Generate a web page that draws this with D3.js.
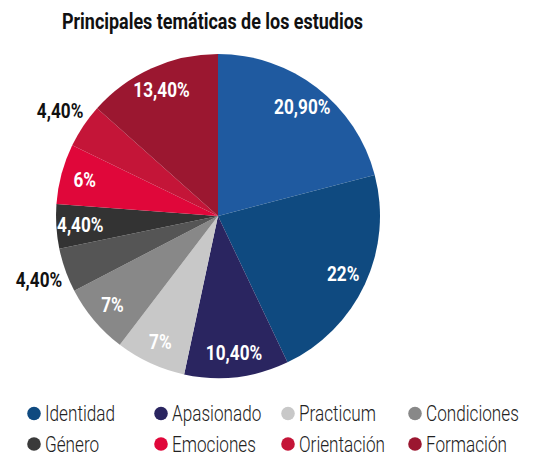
<!DOCTYPE html>
<html>
<head>
  <script src="https://cdn.jsdelivr.net/npm/d3@7"></script>
  <style>
    body { margin: 0; background: #fff; }
    text { font-family: Roboto, "Noto Sans", sans-serif; }
  </style>
</head>
<body>
  <svg width="534" height="452" id="chart"></svg>
  <script>
    // slices, clockwise from 12 o'clock
    const values = [20.9, 22, 10.4, 7, 7, 4.4, 4.4, 6, 4.4, 13.4];
    const sliceColors = ['#1f5aa0', '#0f4a80', '#2a2560', '#c8c8c8', '#888888',
      '#555555', '#333333', '#e0073a', '#c41538', '#9b1730'];
    // slices whose label sits outside the pie
    const outsideLabels = [5, 8];

    const legendNames = ['Identidad', 'Apasionado', 'Practicum', 'Condiciones',
      'Género', 'Emociones', 'Orientación', 'Formación'];
    const legendColors = ['#0f4a80', '#2a2560', '#c8c8c8', '#888888',
      '#3a3a3a', '#e0073a', '#c41538', '#9b1730'];

    const svg = d3.select('#chart');
    const cx = 218, cy = 216, radius = 162;

    svg.append('text')
      .attr('x', 62)
      .attr('y', 29)
      .attr('font-size', 22)
      .attr('font-weight', 700)
      .attr('fill', '#111')
      .attr('textLength', 301)
      .attr('lengthAdjust', 'spacingAndGlyphs')
      .text('Principales temáticas de los estudios');

    const fmt = v => Number.isInteger(v) ? `${v}%` : `${v.toFixed(2).replace('.', ',')}%`;

    const pie = d3.pie().sort(null).value(d => d);
    const arcs = pie(values);
    const arc = d3.arc().innerRadius(0).outerRadius(radius);
    const inArc = d3.arc().innerRadius(138).outerRadius(138);
    const outArc = d3.arc().innerRadius(190).outerRadius(190);

    const g = svg.append('g').attr('transform', `translate(${cx},${cy})`);

    g.selectAll('path')
      .data(arcs)
      .join('path')
      .attr('d', arc)
      .attr('fill', (d, i) => sliceColors[i]);

    g.selectAll('text.lbl')
      .data(arcs)
      .join('text')
      .attr('class', 'lbl')
      .attr('transform', (d, i) => {
        const out = outsideLabels.includes(i);
        const [x, y] = (out ? outArc : inArc).centroid(d);
        return `translate(${x},${y}) scale(0.86,1)`;
      })
      .attr('text-anchor', 'middle')
      .attr('dy', '0.36em')
      .attr('font-size', 20)
      .attr('font-weight', 700)
      .attr('fill', (d, i) => outsideLabels.includes(i) ? '#111' : '#fff')
      .text(d => fmt(d.data));

    const legend = svg.append('g');
    const item = legend.selectAll('g')
      .data(legendNames)
      .join('g')
      .attr('transform', (d, i) => `translate(${34 + (i % 4) * 127},${413.5 + Math.floor(i / 4) * 30.5})`);

    item.append('circle')
      .attr('r', 6.8)
      .attr('fill', (d, i) => legendColors[i]);

    item.append('text')
      .attr('transform', 'translate(11,7.5) scale(0.78,1)')
      .attr('font-size', 22)
      .attr('font-weight', 300)
      .attr('fill', '#222')
      .text(d => d);
  </script>
</body>
</html>
